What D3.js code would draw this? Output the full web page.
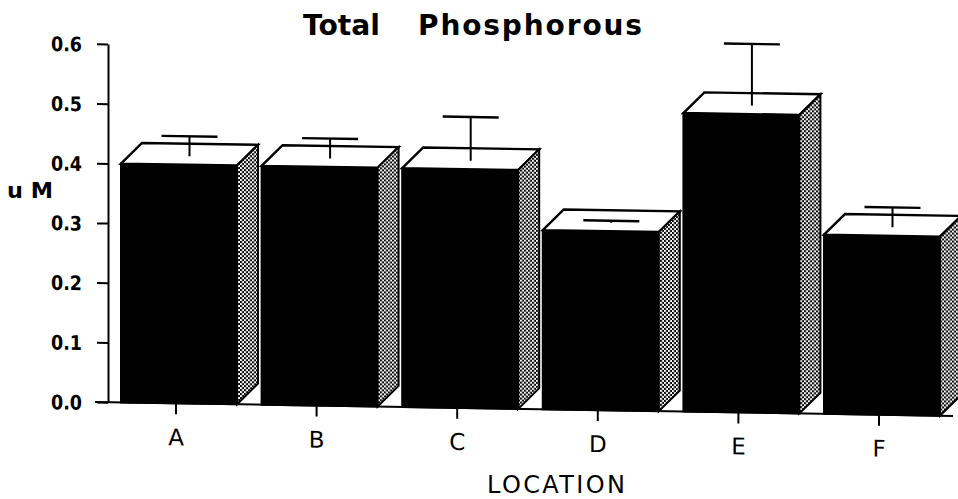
<!DOCTYPE html>
<html>
<head>
<meta charset="utf-8">
<script src="https://cdn.jsdelivr.net/npm/d3@7"></script>
<style>
  html, body { margin: 0; padding: 0; background: #fff; }
  svg { display: block; }
  text { font-family: "DejaVu Sans", "Liberation Sans", Arial, sans-serif; fill: #000; }
</style>
</head>
<body>
<svg id="chart" width="958" height="499"></svg>
<script>
// ---- data ----
const categories = ["A", "B", "C", "D", "E", "F"];
const means      = [0.40, 0.40, 0.40, 0.30, 0.50, 0.30];
const errors     = [0.03, 0.03, 0.07, 0.00, 0.10, 0.03];
const yTickValues = [0.0, 0.1, 0.2, 0.3, 0.4, 0.5, 0.6];
const titleWords = ["Total", "Phosphorous"];
const yLabel = "u M";
const xLabel = "LOCATION";

// ---- layout ----
const W = 958, H = 499;
const FONT = '"DejaVu Sans", "Liberation Sans", Arial, sans-serif';
const depth = 21;          // 3D offset
const frontLeft = 55, frontRight = 61;
const skewK = 0.0162;      // scan is slightly sheared
const skewOriginX = 176;

const svg = d3.select("#chart");
svg.append("rect").attr("width", W).attr("height", H).attr("fill", "#fff");

const defs = svg.append("defs");
const pat = defs.append("pattern").attr("id", "dots")
  .attr("patternUnits", "userSpaceOnUse").attr("width", 4).attr("height", 4);
pat.append("rect").attr("width", 4).attr("height", 4).attr("fill", "#fff");
pat.append("rect").attr("x", 0).attr("y", 0).attr("width", 2).attr("height", 2).attr("fill", "#000");
pat.append("rect").attr("x", 2).attr("y", 2).attr("width", 2).attr("height", 2).attr("fill", "#000");

const step = 140.6;
const x = d3.scaleBand().domain(categories)
  .range([skewOriginX - step / 2, skewOriginX - step / 2 + step * categories.length])
  .padding(0);
const cx = d => x(d) + x.bandwidth() / 2;
const y = d3.scaleLinear().domain([0, 0.6]).range([403.3, 45.1]);

const angle = Math.atan(skewK) * 180 / Math.PI;
const g = svg.append("g")
  .attr("transform", `translate(0,${-skewOriginX * skewK}) skewY(${angle})`);

// y axis
const yAxis = d3.axisLeft(y).tickValues(yTickValues).tickFormat(d3.format(".1f"))
  .tickSize(11).tickSizeOuter(0).tickPadding(15);
const ya = g.append("g").attr("transform", "translate(108,0)").call(yAxis);
ya.attr("font-family", null).attr("font-size", null);
ya.select(".domain").attr("stroke", "#000").attr("stroke-width", 2);
ya.selectAll(".tick line").attr("stroke", "#000").attr("stroke-width", 2);
ya.selectAll(".tick text")
  .style("font-family", FONT)
  .style("font-size", "20px").style("font-weight", "bold")
  .attr("textLength", 31).attr("lengthAdjust", "spacingAndGlyphs")
  .attr("dy", "0.37em").style("fill", "#000");

// x axis baseline
g.append("line").attr("x1", 95).attr("x2", 953)
  .attr("y1", y(0)).attr("y2", y(0))
  .attr("stroke", "#000").attr("stroke-width", 2);

const xAxis = d3.axisBottom(x).tickSize(11).tickSizeOuter(0);
const xa = g.append("g").attr("transform", `translate(0,${y(0)})`).call(xAxis);
xa.attr("font-family", null).attr("font-size", null);
xa.select(".domain").remove();
xa.selectAll(".tick line").attr("stroke", "#000").attr("stroke-width", 2);
xa.selectAll(".tick text")
  .style("font-family", FONT)
  .style("font-size", "23px").style("font-weight", "normal")
  .attr("y", 42).attr("dy", 0).style("fill", "#000");

// bars
const data = categories.map((c, i) => ({ c, v: means[i], e: errors[i] }));
const bars = g.append("g").selectAll("g").data(data).join("g");

bars.append("rect")
  .attr("x", d => cx(d.c) - frontLeft)
  .attr("y", d => y(d.v))
  .attr("width", frontLeft + frontRight)
  .attr("height", d => y(0) - y(d.v))
  .attr("fill", "#000").attr("stroke", "#000").attr("stroke-width", 2);

bars.append("polygon")
  .attr("points", d => {
    const l = cx(d.c) - frontLeft, r = cx(d.c) + frontRight, t = y(d.v);
    return [[l, t], [l + depth, t - depth], [r + depth, t - depth], [r, t]].join(" ");
  })
  .attr("fill", "#fff").attr("stroke", "#000").attr("stroke-width", 2.4)
  .attr("stroke-linejoin", "miter");

bars.append("polygon")
  .attr("points", d => {
    const r = cx(d.c) + frontRight, t = y(d.v), b = y(0);
    return [[r, t], [r + depth, t - depth], [r + depth, b - depth], [r, b]].join(" ");
  })
  .attr("fill", "url(#dots)").attr("stroke", "#000").attr("stroke-width", 2);

// error bars (drawn in the mid-depth plane)
const ex = d => cx(d.c) + (frontRight - frontLeft) / 2 + depth / 2;
bars.append("line")
  .attr("x1", ex).attr("x2", ex)
  .attr("y1", d => y(d.v) - depth / 2 + 2)
  .attr("y2", d => y(d.v + d.e) - depth / 2)
  .attr("stroke", "#000").attr("stroke-width", 2);
bars.append("line")
  .attr("x1", d => ex(d) - 28).attr("x2", d => ex(d) + 28)
  .attr("y1", d => y(d.v + d.e) - depth / 2)
  .attr("y2", d => y(d.v + d.e) - depth / 2)
  .attr("stroke", "#000").attr("stroke-width", 2.4);

// titles / labels (unsheared)
svg.append("text").attr("x", 303).attr("y", 35)
  .style("font-family", FONT)
  .style("font-size", "28px").style("font-weight", "bold")
  .attr("textLength", 77).attr("lengthAdjust", "spacingAndGlyphs")
  .text(titleWords[0]);
svg.append("text").attr("x", 418).attr("y", 35)
  .style("font-family", FONT)
  .style("font-size", "28px").style("font-weight", "bold")
  .attr("textLength", 224).attr("lengthAdjust", "spacing")
  .text(titleWords[1]);

svg.append("text").attr("x", 7).attr("y", 198)
  .style("font-family", FONT)
  .style("font-size", "22px").style("font-weight", "bold")
  .attr("textLength", 46).attr("lengthAdjust", "spacingAndGlyphs")
  .text(yLabel);

svg.append("text").attr("x", 487).attr("y", 493)
  .style("font-family", FONT)
  .style("font-size", "24px").style("font-weight", "normal")
  .attr("textLength", 138).attr("lengthAdjust", "spacing")
  .text(xLabel);
</script>
</body>
</html>
